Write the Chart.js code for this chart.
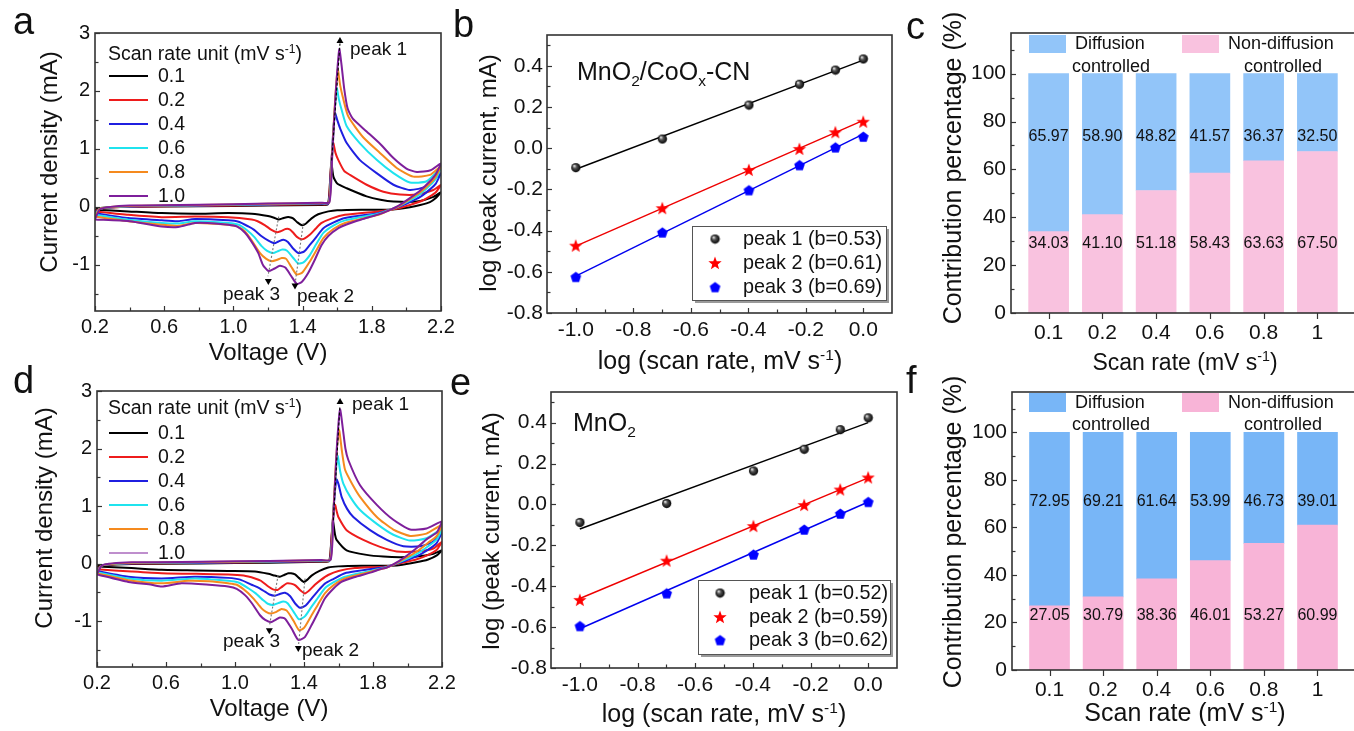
<!DOCTYPE html>
<html><head><meta charset="utf-8">
<script src="https://cdn.jsdelivr.net/npm/chart.js@4.4.1/dist/chart.umd.min.js"></script>
<style>
html,body{margin:0;padding:0;background:#fff;width:1354px;height:731px;overflow:hidden;position:relative;}
canvas{position:absolute;left:0;top:0;}
</style></head><body>
<canvas id="ca" width="1360" height="731"></canvas>
<canvas id="cb" width="1360" height="731"></canvas>
<canvas id="cc" width="1360" height="731"></canvas>
<canvas id="cd" width="1360" height="731"></canvas>
<canvas id="ce" width="1360" height="731"></canvas>
<canvas id="cf" width="1360" height="731"></canvas>
<script>
// ================= DATA =================
const scanRates = ['0.1','0.2','0.4','0.6','0.8','1.0'];
const cvColors = ['#000000','#ee1c1c','#1f1fe0','#1fe3ee','#f58a1e','#7e1f9b'];

// Panel a: MnO2/CoOx-CN CV curves [V, mA]
const cvA_01 = [[0.2,-0.05],[0.23,-0.02],[0.4,0.0],[0.8,0.01],[1.2,0.02],[1.5,0.03],[1.545,0.04],[1.556,0.3],[1.566,0.76],[1.578,0.52],[1.6,0.4],[1.655,0.32],[1.77,0.18],[1.85,0.12],[1.925,0.09],[2.06,0.09],[2.156,0.17],[2.2,0.25],
 [2.17,0.15],[2.136,0.08],[2.08,0.03],[2.02,-0.01],[1.95,-0.04],[1.886,-0.05],[1.74,-0.05],[1.6,-0.06],[1.549,-0.08],[1.49,-0.13],[1.452,-0.2],[1.42,-0.29],[1.397,-0.32],[1.37,-0.27],[1.345,-0.2],[1.325,-0.18],[1.308,-0.18],[1.285,-0.2],[1.262,-0.22],[1.235,-0.19],[1.2,-0.16],[1.106,-0.12],[0.97,-0.11],[0.778,-0.12],[0.585,-0.11],[0.393,-0.08],[0.2,-0.05]];
const cvA_02 = [[0.2,-0.08],[0.23,-0.03],[0.4,0.0],[0.8,0.015],[1.2,0.03],[1.5,0.045],[1.548,0.05],[1.558,0.4],[1.568,0.85],[1.577,1.1],[1.59,0.93],[1.606,0.81],[1.64,0.62],[1.674,0.55],[1.77,0.38],[1.867,0.26],[1.963,0.21],[2.06,0.21],[2.156,0.29],[2.2,0.38],
 [2.17,0.25],[2.136,0.18],[2.08,0.09],[2.02,0.03],[1.95,-0.03],[1.886,-0.06],[1.838,-0.08],[1.645,-0.14],[1.57,-0.2],[1.51,-0.28],[1.475,-0.38],[1.443,-0.48],[1.41,-0.55],[1.392,-0.56],[1.367,-0.52],[1.346,-0.45],[1.325,-0.39],[1.302,-0.385],[1.275,-0.42],[1.252,-0.44],[1.22,-0.4],[1.183,-0.32],[1.14,-0.25],[1.106,-0.22],[0.97,-0.18],[0.778,-0.17],[0.585,-0.18],[0.393,-0.14],[0.2,-0.08]];
const cvA_04 = [[0.2,-0.11],[0.23,-0.03],[0.4,0.005],[0.8,0.02],[1.2,0.04],[1.5,0.055],[1.55,0.06],[1.562,0.5],[1.575,1.2],[1.587,1.62],[1.6,1.5],[1.616,1.36],[1.655,1.1],[1.73,0.81],[1.828,0.58],[1.925,0.38],[2.02,0.29],[2.117,0.35],[2.2,0.58],
 [2.17,0.4],[2.136,0.3],[2.08,0.17],[2.02,0.08],[1.95,-0.01],[1.886,-0.07],[1.838,-0.11],[1.645,-0.195],[1.58,-0.27],[1.52,-0.37],[1.48,-0.52],[1.443,-0.655],[1.41,-0.77],[1.377,-0.8],[1.345,-0.72],[1.315,-0.61],[1.289,-0.57],[1.26,-0.6],[1.237,-0.63],[1.2,-0.58],[1.163,-0.51],[1.12,-0.4],[1.086,-0.34],[1.03,-0.26],[0.97,-0.235],[0.778,-0.21],[0.68,-0.25],[0.585,-0.235],[0.393,-0.195],[0.2,-0.11]];
const cvA_06 = [[0.2,-0.14],[0.23,-0.03],[0.4,0.01],[0.8,0.025],[1.2,0.045],[1.5,0.06],[1.552,0.07],[1.565,0.6],[1.58,1.4],[1.597,2.05],[1.61,1.85],[1.626,1.67],[1.655,1.39],[1.73,1.1],[1.828,0.81],[1.925,0.58],[2.02,0.42],[2.117,0.44],[2.2,0.67],
 [2.17,0.48],[2.136,0.37],[2.08,0.22],[2.02,0.11],[1.95,0.0],[1.886,-0.07],[1.838,-0.12],[1.645,-0.235],[1.58,-0.32],[1.52,-0.45],[1.48,-0.64],[1.443,-0.83],[1.405,-0.96],[1.375,-0.98],[1.345,-0.88],[1.31,-0.76],[1.283,-0.74],[1.255,-0.77],[1.231,-0.8],[1.195,-0.76],[1.163,-0.68],[1.12,-0.52],[1.077,-0.4],[1.03,-0.31],[0.97,-0.28],[0.778,-0.25],[0.68,-0.29],[0.585,-0.28],[0.393,-0.225],[0.2,-0.14]];
const cvA_08 = [[0.2,-0.17],[0.23,-0.03],[0.4,0.015],[0.8,0.03],[1.2,0.05],[1.5,0.065],[1.553,0.075],[1.567,0.7],[1.585,1.7],[1.603,2.37],[1.617,2.1],[1.632,1.9],[1.664,1.56],[1.75,1.2],[1.847,0.93],[1.944,0.67],[2.04,0.52],[2.137,0.55],[2.2,0.7],
 [2.17,0.52],[2.136,0.4],[2.08,0.25],[2.02,0.13],[1.95,0.0],[1.886,-0.08],[1.838,-0.14],[1.645,-0.28],[1.58,-0.38],[1.52,-0.54],[1.48,-0.75],[1.443,-0.94],[1.4,-1.13],[1.366,-1.17],[1.335,-1.04],[1.305,-0.9],[1.279,-0.885],[1.25,-0.92],[1.221,-0.94],[1.19,-0.9],[1.154,-0.8],[1.11,-0.6],[1.067,-0.425],[1.02,-0.34],[0.97,-0.31],[0.778,-0.28],[0.68,-0.33],[0.585,-0.31],[0.393,-0.25],[0.2,-0.17]];
const cvA_10 = [[0.2,-0.22],[0.23,-0.04],[0.4,0.02],[0.8,0.035],[1.2,0.055],[1.5,0.07],[1.555,0.08],[1.57,0.8],[1.59,1.9],[1.612,2.72],[1.625,2.45],[1.64,2.05],[1.66,1.7],[1.69,1.52],[1.77,1.3],[1.85,1.08],[1.925,0.84],[2.0,0.66],[2.06,0.6],[2.14,0.63],[2.2,0.75],
 [2.17,0.56],[2.136,0.44],[2.08,0.28],[2.02,0.15],[1.95,0.01],[1.886,-0.08],[1.83,-0.14],[1.74,-0.22],[1.65,-0.31],[1.607,-0.37],[1.55,-0.5],[1.51,-0.66],[1.47,-0.92],[1.433,-1.14],[1.395,-1.3],[1.366,-1.33],[1.335,-1.2],[1.3,-1.05],[1.269,-1.02],[1.235,-1.07],[1.202,-1.11],[1.17,-1.0],[1.144,-0.8],[1.1,-0.58],[1.067,-0.45],[1.02,-0.34],[0.97,-0.31],[0.85,-0.28],[0.778,-0.28],[0.68,-0.35],[0.585,-0.34],[0.4,-0.25],[0.2,-0.22]];

// Panel d: MnO2 CV curves [V, mA]
const cvD_01 = [[0.2,-0.05],[0.23,-0.03],[0.4,-0.01],[0.8,0.0],[1.2,0.015],[1.5,0.03],[1.545,0.04],[1.556,0.3],[1.568,0.73],[1.58,0.5],[1.589,0.41],[1.647,0.23],[1.763,0.15],[1.86,0.12],[1.957,0.11],[2.053,0.12],[2.15,0.17],[2.2,0.23],
 [2.17,0.14],[2.12,0.07],[2.05,0.02],[1.95,-0.03],[1.88,-0.04],[1.734,-0.04],[1.6,-0.05],[1.54,-0.07],[1.49,-0.13],[1.444,-0.21],[1.42,-0.28],[1.398,-0.32],[1.37,-0.25],[1.348,-0.19],[1.325,-0.17],[1.309,-0.17],[1.285,-0.2],[1.26,-0.23],[1.23,-0.21],[1.193,-0.18],[1.116,-0.14],[0.96,-0.13],[0.775,-0.12],[0.575,-0.11],[0.4,-0.08],[0.2,-0.05]];
const cvD_02 = [[0.2,-0.1],[0.23,-0.03],[0.4,0.0],[0.8,0.01],[1.2,0.025],[1.5,0.04],[1.548,0.05],[1.558,0.4],[1.57,0.85],[1.58,1.02],[1.59,0.9],[1.599,0.81],[1.647,0.58],[1.744,0.41],[1.841,0.29],[1.937,0.21],[2.053,0.21],[2.15,0.26],[2.2,0.38],
 [2.17,0.24],[2.12,0.15],[2.05,0.07],[1.95,0.0],[1.88,-0.05],[1.695,-0.08],[1.6,-0.13],[1.54,-0.2],[1.5,-0.28],[1.463,-0.37],[1.43,-0.47],[1.405,-0.52],[1.38,-0.47],[1.35,-0.38],[1.325,-0.35],[1.3,-0.345],[1.27,-0.41],[1.247,-0.46],[1.22,-0.45],[1.193,-0.4],[1.15,-0.3],[1.116,-0.26],[1.05,-0.21],[0.96,-0.19],[0.775,-0.18],[0.575,-0.17],[0.4,-0.14],[0.2,-0.1]];
const cvD_04 = [[0.2,-0.13],[0.23,-0.03],[0.4,0.005],[0.8,0.015],[1.2,0.03],[1.5,0.045],[1.55,0.055],[1.562,0.5],[1.576,1.15],[1.589,1.46],[1.6,1.38],[1.618,1.16],[1.65,0.95],[1.686,0.81],[1.783,0.58],[1.88,0.41],[1.976,0.3],[2.073,0.3],[2.15,0.38],[2.2,0.55],
 [2.17,0.36],[2.12,0.24],[2.05,0.12],[1.95,0.01],[1.88,-0.06],[1.83,-0.08],[1.637,-0.17],[1.57,-0.27],[1.521,-0.35],[1.48,-0.48],[1.444,-0.61],[1.41,-0.73],[1.377,-0.77],[1.35,-0.7],[1.32,-0.57],[1.29,-0.51],[1.26,-0.53],[1.232,-0.56],[1.2,-0.54],[1.174,-0.49],[1.13,-0.41],[1.096,-0.37],[1.03,-0.28],[0.96,-0.25],[0.768,-0.23],[0.575,-0.26],[0.381,-0.23],[0.2,-0.13]];
const cvD_06 = [[0.2,-0.15],[0.23,-0.03],[0.4,0.01],[0.8,0.02],[1.2,0.035],[1.5,0.05],[1.552,0.06],[1.565,0.6],[1.58,1.4],[1.595,1.87],[1.61,1.6],[1.628,1.39],[1.67,1.15],[1.725,0.93],[1.822,0.69],[1.918,0.5],[2.015,0.4],[2.11,0.44],[2.2,0.6],
 [2.17,0.42],[2.12,0.3],[2.05,0.16],[1.95,0.02],[1.88,-0.06],[1.83,-0.1],[1.637,-0.23],[1.57,-0.33],[1.521,-0.43],[1.48,-0.6],[1.444,-0.75],[1.405,-0.92],[1.371,-0.97],[1.34,-0.84],[1.305,-0.69],[1.28,-0.66],[1.25,-0.69],[1.222,-0.72],[1.19,-0.7],[1.164,-0.64],[1.12,-0.52],[1.077,-0.43],[1.02,-0.33],[0.96,-0.3],[0.768,-0.26],[0.575,-0.3],[0.381,-0.26],[0.2,-0.15]];
const cvD_08 = [[0.2,-0.17],[0.23,-0.03],[0.4,0.015],[0.8,0.025],[1.2,0.04],[1.5,0.055],[1.553,0.065],[1.567,0.7],[1.585,1.75],[1.603,2.32],[1.62,1.95],[1.638,1.63],[1.68,1.38],[1.725,1.16],[1.822,0.81],[1.918,0.59],[2.015,0.48],[2.11,0.52],[2.2,0.67],
 [2.17,0.48],[2.12,0.36],[2.05,0.2],[1.95,0.03],[1.88,-0.07],[1.83,-0.11],[1.637,-0.26],[1.57,-0.38],[1.521,-0.52],[1.48,-0.72],[1.444,-0.9],[1.4,-1.12],[1.371,-1.16],[1.34,-1.0],[1.3,-0.82],[1.27,-0.79],[1.24,-0.84],[1.208,-0.87],[1.18,-0.84],[1.154,-0.78],[1.11,-0.62],[1.067,-0.49],[1.01,-0.37],[0.96,-0.345],[0.85,-0.31],[0.73,-0.3],[0.575,-0.345],[0.381,-0.29],[0.2,-0.17]];
const cvD_10 = [[0.2,-0.19],[0.23,-0.03],[0.4,0.02],[0.8,0.03],[1.2,0.045],[1.5,0.06],[1.555,0.07],[1.57,0.8],[1.59,2.0],[1.609,2.68],[1.625,2.35],[1.64,2.0],[1.657,1.8],[1.725,1.36],[1.822,1.02],[1.918,0.76],[2.015,0.59],[2.11,0.61],[2.2,0.73],
 [2.17,0.54],[2.11,0.42],[2.05,0.26],[1.95,0.04],[1.88,-0.07],[1.84,-0.1],[1.791,-0.155],[1.69,-0.24],[1.617,-0.32],[1.57,-0.44],[1.521,-0.61],[1.48,-0.86],[1.444,-1.07],[1.405,-1.28],[1.367,-1.33],[1.33,-1.14],[1.29,-0.96],[1.26,-0.94],[1.235,-0.98],[1.208,-1.02],[1.175,-0.98],[1.145,-0.9],[1.1,-0.7],[1.058,-0.55],[1.01,-0.44],[0.96,-0.4],[0.85,-0.37],[0.69,-0.345],[0.575,-0.4],[0.517,-0.37],[0.381,-0.32],[0.2,-0.19]];

// peak guide lines and arrow heads [V, mA, rotation]
const guideA1 = [[1.568,0.8],[1.616,2.82]];
const guideA3 = [[1.262,-0.17],[1.2,-1.2]];
const guideA2 = [[1.404,-0.28],[1.358,-1.3]];
const arrowsA = [[1.616,2.86,0],[1.202,-1.28,180],[1.356,-1.36,180]];
const guideD1 = [[1.57,0.75],[1.608,2.74]];
const guideD3 = [[1.25,-0.2],[1.2,-1.08]];
const guideD2 = [[1.406,-0.26],[1.369,-1.4]];
const arrowsD = [[1.609,2.81,0],[1.199,-1.16,180],[1.367,-1.47,180]];

// Panel b / e: log(peak current) vs log(scan rate)
const logRate = [-1.0,-0.699,-0.398,-0.222,-0.097,0.0];
const bPeak1 = [-0.094,0.045,0.21,0.311,0.38,0.434];
const bPeak2 = [-0.473,-0.291,-0.105,-0.003,0.078,0.129];
const bPeak3 = [-0.624,-0.408,-0.203,-0.081,0.005,0.057];
const bFit1 = [[-1,-0.102],[0,0.428]];
const bFit2 = [[-1,-0.475],[0,0.135]];
const bFit3 = [[-1,-0.621],[0,0.069]];
const bLegend = ['peak 1 (b=0.53)','peak 2 (b=0.61)','peak 3 (b=0.69)'];
const ePeak1 = [-0.088,0.005,0.164,0.27,0.366,0.424];
const ePeak2 = [-0.467,-0.275,-0.106,-0.003,0.073,0.132];
const ePeak3 = [-0.594,-0.434,-0.244,-0.122,-0.044,0.013];
const eFit1 = [[-1,-0.12],[0,0.4]];
const eFit2 = [[-1,-0.46],[0,0.13]];
const eFit3 = [[-1,-0.608],[0,0.012]];
const eLegend = ['peak 1 (b=0.52)','peak 2 (b=0.59)','peak 3 (b=0.62)'];

// Panel c / f: contribution percentages
const rateLabels = ['0.1','0.2','0.4','0.6','0.8','1'];
const cNonDiff = [34.03,41.10,51.18,58.43,63.63,67.50];
const cDiff = [65.97,58.90,48.82,41.57,36.37,32.50];
const fNonDiff = [27.05,30.79,38.36,46.01,53.27,60.99];
const fDiff = [72.95,69.21,61.64,53.99,46.73,39.01];

// Tick values and labels
const cvTicksX = [0.2,0.4,0.6,0.8,1.0,1.2,1.4,1.6,1.8,2.0,2.2];
const cvLabelsX = ['0.2','','0.6','','1.0','','1.4','','1.8','','2.2'];
const cvTicksY = [-1.5,-1,-0.5,0,0.5,1,1.5,2,2.5,3];
const cvLabelsY = ['','-1','','0','','1','','2','','3'];
const logTicksX = [-1.0,-0.9,-0.8,-0.7,-0.6,-0.5,-0.4,-0.3,-0.2,-0.1,0.0];
const logLabelsX = ['-1.0','','-0.8','','-0.6','','-0.4','','-0.2','','0.0'];
const logTicksY = [-0.8,-0.7,-0.6,-0.5,-0.4,-0.3,-0.2,-0.1,0,0.1,0.2,0.3,0.4,0.5];
const logLabelsY = ['-0.8','','-0.6','','-0.4','','-0.2','','0.0','','0.2','','0.4',''];
const pctTicksY = [0,10,20,30,40,50,60,70,80,90,100,110];
const pctLabelsY = ['0','','20','','40','','60','','80','','100',''];
const rateTicks = [0,1,2,3,4,5];

// ================= HELPERS =================
const FONT = "'Liberation Sans', Arial, Helvetica, sans-serif";
const INK = '#111';
const W = 1360, H = 731;

function drawRich(ctx, segs, x, y, size, align) {
  ctx.fillStyle = INK; ctx.textBaseline = 'alphabetic'; ctx.textAlign = 'left';
  const parts = segs.map(([t, m]) => { const s = m ? size * 0.62 : size; ctx.font = s + 'px ' + FONT; return {t, m, s, w: ctx.measureText(t).width}; });
  const total = parts.reduce((a, p) => a + p.w, 0);
  let cx = align === 'center' ? x - total / 2 : (align === 'right' ? x - total : x);
  for (const p of parts) {
    ctx.font = p.s + 'px ' + FONT;
    const dy = p.m === 1 ? -size * 0.38 : (p.m === -1 ? size * 0.22 : 0);
    ctx.fillText(p.t, cx, y + dy);
    cx += p.w;
  }
}
function vTitle(ctx, segs, bx, cy, size) {
  ctx.save(); ctx.translate(bx, cy); ctx.rotate(-Math.PI / 2); drawRich(ctx, segs, 0, 0, size, 'center'); ctx.restore();
}
function text(ctx, t, x, y, size, align) {
  ctx.fillStyle = INK; ctx.font = size + 'px ' + FONT; ctx.textAlign = align || 'left'; ctx.textBaseline = 'middle'; ctx.fillText(t, x, y);
}

function linScale(min, max, ticks, labels, fsize, pad, isX) {
  return {
    type: 'linear', min, max, bounds: 'data', offset: false,
    afterBuildTicks: s => { s.ticks = ticks.map(v => ({value: v})); },
    afterFit: s => { if (isX) s.height = 30; else s.width = 40; },
    grid: {display: false, drawTicks: false},
    border: {display: false},
    ticks: {autoSkip: false, maxRotation: 0, minRotation: 0, padding: pad, color: INK,
      font: {family: FONT, size: fsize}, callback: (v, i) => labels[i]}
  };
}

function decoPlugin(opt) {
  return {
    id: 'deco',
    afterDraw(chart) {
      const ctx = chart.ctx, ca = chart.chartArea, xs = chart.scales.x, ys = chart.scales.y;
      ctx.save();
      ctx.strokeStyle = '#333'; ctx.lineWidth = 1.2;
      xs.ticks.forEach((t, i) => {
        const px = Math.round(xs.getPixelForValue(t.value)) + 0.5;
        const len = opt.xLabels[i] ? 5 : 3.5;
        ctx.beginPath();
        if (opt.xOut) { ctx.moveTo(px, ca.bottom); ctx.lineTo(px, ca.bottom + 6); }
        else { ctx.moveTo(px, ca.bottom); ctx.lineTo(px, ca.bottom - len); }
        ctx.stroke();
      });
      ys.ticks.forEach((t, i) => {
        const py = Math.round(ys.getPixelForValue(t.value)) + 0.5;
        const len = opt.yLabels[i] ? 5 : 3.5;
        ctx.beginPath(); ctx.moveTo(ca.left, py); ctx.lineTo(ca.left + len, py); ctx.stroke();
      });
      ctx.lineWidth = 1.6; ctx.strokeStyle = '#333';
      ctx.strokeRect(ca.left, ca.top, ca.right - ca.left, ca.bottom - ca.top);
      if (opt.extra) opt.extra(ctx, chart);
      ctx.restore();
    }
  };
}

function baseOptions(box, xScale, yScale) {
  return {
    responsive: false, animation: false, devicePixelRatio: 1, events: [],
    layout: {padding: {left: box.L - 40, top: box.T, right: W - box.R, bottom: H - box.B - 30}},
    plugins: {legend: {display: false}, tooltip: {enabled: false}},
    scales: {x: xScale, y: yScale}
  };
}

// marker images
function makeSphere(r) {
  const c = document.createElement('canvas'); c.width = c.height = 2 * r + 2;
  const g = c.getContext('2d'); const m = r + 1;
  const grd = g.createRadialGradient(m - r * 0.35, m - r * 0.4, r * 0.1, m, m, r);
  grd.addColorStop(0, '#e0e0e0'); grd.addColorStop(0.35, '#555'); grd.addColorStop(1, '#000');
  g.fillStyle = grd; g.beginPath(); g.arc(m, m, r, 0, Math.PI * 2); g.fill();
  return c;
}
function makeStar(R, r, color) {
  const c = document.createElement('canvas'); c.width = c.height = 2 * R + 2;
  const g = c.getContext('2d'); const m = R + 1;
  g.fillStyle = color; g.beginPath();
  for (let k = 0; k < 10; k++) { const a = -Math.PI / 2 + k * Math.PI / 5; const rr = k % 2 ? r : R; g.lineTo(m + rr * Math.cos(a), m + 0.5 + rr * Math.sin(a)); }
  g.closePath(); g.fill(); return c;
}
function makePentagon(R, color) {
  const c = document.createElement('canvas'); c.width = c.height = 2 * R + 2;
  const g = c.getContext('2d'); const m = R + 1;
  g.fillStyle = color; g.beginPath();
  for (let k = 0; k < 5; k++) { const a = -Math.PI / 2 + k * 2 * Math.PI / 5; g.lineTo(m + R * Math.cos(a), m + 0.6 + R * Math.sin(a)); }
  g.closePath(); g.fill(); return c;
}
const mkSphere = makeSphere(4.6), mkStar = makeStar(7, 2.9, '#ff0000'), mkPent = makePentagon(5.6, '#0000ff');

// ================= CV PANELS =================
function cvChart(id, box, curves, guides, arrows, cfg) {
  const ds = curves.map((c, i) => ({
    data: c.map(p => ({x: p[0], y: p[1]})), showLine: true,
    borderColor: cvColors[i], backgroundColor: cvColors[i], borderWidth: 2,
    pointRadius: 0, tension: 0.2, order: 10 - i
  }));
  guides.forEach(g => ds.push({data: g.pts.map(p => ({x: p[0], y: p[1]})), showLine: true,
    borderColor: g.color, borderWidth: 1.1, borderDash: g.dash, pointRadius: 0, tension: 0, order: 1}));
  ds.push({data: arrows.map(a => ({x: a[0], y: a[1]})), showLine: false, pointStyle: 'triangle',
    pointRadius: 4, pointRotation: arrows.map(a => a[2]), backgroundColor: '#000', borderColor: '#000', borderWidth: 0, order: 0});
  const opts = baseOptions(box,
    linScale(0.2, 2.2, cvTicksX, cvLabelsX, 20, cfg.xPad, true),
    linScale(-1.8, 3, cvTicksY, cvLabelsY, 20, 5, false));
  new Chart(document.getElementById(id), {
    type: 'scatter', data: {datasets: ds}, options: opts,
    plugins: [decoPlugin({xLabels: cvLabelsX, yLabels: cvLabelsY, xOut: false, extra: (ctx, chart) => {
      drawRich(ctx, [['Voltage (V)', 0]], cfg.xt[0], cfg.xt[1], 24, 'center');
      vTitle(ctx, [['Current density (mA)', 0]], cfg.yt[0], cfg.yt[1], 24);
      drawRich(ctx, [['Scan rate unit (mV s', 0], ['-1', 1], [')', 0]], 108, cfg.lgTitle + 7, 19.5, 'left');
      scanRates.forEach((r, i) => {
        const y = cfg.lgRows[i];
        ctx.strokeStyle = cvColors[i]; ctx.lineWidth = cfg.lgLw[i];
        ctx.beginPath(); ctx.moveTo(109, y); ctx.lineTo(148, y); ctx.stroke();
        text(ctx, r, 158, y + 1, 19.5);
      });
      cfg.peaks.forEach(p => text(ctx, p[0], p[1], p[2], 19));
      text(ctx, cfg.letter[0], cfg.letter[1], cfg.letter[2], 38);
    }})]
  });
}

cvChart('ca', {L: 95, T: 33, R: 441, B: 311}, [cvA_01, cvA_02, cvA_04, cvA_06, cvA_08, cvA_10],
  [{pts: guideA1, color: '#000', dash: [3, 2]}, {pts: guideA3, color: '#777', dash: [2, 2]}, {pts: guideA2, color: '#777', dash: [2, 2]}],
  arrowsA,
  {xPad: 4, xt: [268, 360], yt: [57, 162], lgTitle: 53, lgRows: [76, 100, 124, 148, 172, 196], lgLw: [2, 2, 2, 2, 2, 2],
   peaks: [['peak 1', 350, 50], ['peak 3', 223, 295], ['peak 2', 297, 297]], letter: ['a', 13, 24]});

cvChart('cd', {L: 97, T: 391, R: 442, B: 667}, [cvD_01, cvD_02, cvD_04, cvD_06, cvD_08, cvD_10],
  [{pts: guideD1, color: '#000', dash: [3, 2]}, {pts: guideD3, color: '#777', dash: [2, 2]}, {pts: guideD2, color: '#777', dash: [2, 2]}],
  arrowsD,
  {xPad: 4, xt: [269, 716], yt: [52, 518], lgTitle: 407, lgRows: [433, 457, 481, 505, 529, 553], lgLw: [2, 2, 2, 2, 2, 1],
   peaks: [['peak 1', 352, 405], ['peak 3', 223, 642], ['peak 2', 302, 651]], letter: ['d', 13, 383]});

// ================= LOG PANELS =================
function logChart(id, box, peaks, fits, legend, cfg) {
  const mk = [mkSphere, mkStar, mkPent], col = ['#000000', '#ee0000', '#0000ee'];
  const ds = [];
  peaks.forEach((p, i) => ds.push({data: logRate.map((x, k) => ({x, y: p[k]})), showLine: false,
    pointStyle: mk[i], pointRadius: 5, order: 0}));
  fits.forEach((f, i) => ds.push({data: f.map(p => ({x: p[0], y: p[1]})), showLine: true,
    borderColor: col[i], borderWidth: 1.4, pointRadius: 0, order: 1}));
  const opts = baseOptions(box,
    linScale(-1.1, 0.1, logTicksX, logLabelsX, 21, 4.5, true),
    linScale(-0.8, 0.55, logTicksY, logLabelsY, 21, 4, false));
  new Chart(document.getElementById(id), {
    type: 'scatter', data: {datasets: ds}, options: opts,
    plugins: [decoPlugin({xLabels: logLabelsX, yLabels: logLabelsY, xOut: false, extra: (ctx) => {
      drawRich(ctx, [['log (scan rate, mV s', 0], ['-1', 1], [')', 0]], cfg.xt[0], cfg.xt[1], 25, 'center');
      vTitle(ctx, [['log (peak current, mA)', 0]], cfg.yt[0], cfg.yt[1], 24);
      drawRich(ctx, cfg.name, cfg.nm[0], cfg.nm[1], 25, 'left');
      const lb = cfg.lg;
      ctx.fillStyle = '#9a9a9a'; ctx.fillRect(lb[0] + 3, lb[1] + 3, lb[2], lb[3]);
      ctx.fillStyle = '#fff'; ctx.fillRect(lb[0], lb[1], lb[2], lb[3]);
      ctx.strokeStyle = '#555'; ctx.lineWidth = 1; ctx.strokeRect(lb[0] + 0.5, lb[1] + 0.5, lb[2], lb[3]);
      legend.forEach((t, i) => {
        const y = cfg.lgRows[i];
        ctx.drawImage(mk[i], cfg.lgMk - mk[i].width / 2, y - mk[i].height / 2);
        text(ctx, t, cfg.lgTx, y + 1, 19.8);
      });
      text(ctx, cfg.letter[0], cfg.letter[1], cfg.letter[2], 38);
    }})]
  });
}

logChart('cb', {L: 547, T: 35, R: 892, B: 313}, [bPeak1, bPeak2, bPeak3], [bFit1, bFit2, bFit3], bLegend,
  {xt: [720, 369], yt: [496, 173], name: [['MnO', 0], ['2', -1], ['/CoO', 0], ['x', -1], ['-CN', 0]], nm: [577, 80],
   lg: [692, 226, 194, 74], lgRows: [239, 263, 287], lgMk: 715, lgTx: 743, letter: ['b', 453, 27]});
logChart('ce', {L: 551, T: 392, R: 897, B: 668}, [ePeak1, ePeak2, ePeak3], [eFit1, eFit2, eFit3], eLegend,
  {xt: [724, 722], yt: [499, 531], name: [['MnO', 0], ['2', -1]], nm: [573, 431],
   lg: [698, 580, 192, 74], lgRows: [593, 617, 640], lgMk: 720, lgTx: 749, letter: ['e', 450, 385]});

// ================= BAR PANELS =================
function barChart(id, box, nonDiff, diff, cfg) {
  const opts = baseOptions(box,
    Object.assign(linScale(-0.7, 5.7, rateTicks, rateLabels, 21, 8, true), {stacked: true}),
    Object.assign(linScale(0, 117, pctTicksY, pctLabelsY, 21, 5, false), {stacked: true}));
  new Chart(document.getElementById(id), {
    type: 'bar',
    data: {datasets: [
      {label: 'Non-diffusion controlled', data: nonDiff.map((v, i) => ({x: i, y: v})), backgroundColor: cfg.pink, barThickness: 40, borderWidth: 0},
      {label: 'Diffusion controlled', data: diff.map((v, i) => ({x: i, y: v})), backgroundColor: cfg.blue, barThickness: 40, borderWidth: 0}
    ]},
    options: opts,
    plugins: [decoPlugin({xLabels: rateLabels, yLabels: pctLabelsY, xOut: true, extra: (ctx, chart) => {
      const xs = chart.scales.x, ys = chart.scales.y;
      diff.forEach((v, i) => text(ctx, v.toFixed(2), xs.getPixelForValue(i), ys.getPixelForValue(cfg.topLbl), 16, 'center'));
      nonDiff.forEach((v, i) => text(ctx, v.toFixed(2), xs.getPixelForValue(i), ys.getPixelForValue(cfg.botLbl), 16, 'center'));
      drawRich(ctx, [['Scan rate (mV s', 0], ['-1', 1], [')', 0]], cfg.xt[0], cfg.xt[1], cfg.xtSize, 'center');
      vTitle(ctx, [['Contribution percentage (%)', 0]], cfg.yt[0], cfg.yt[1], 25);
      const lg = cfg.lg;
      ctx.fillStyle = cfg.blue; ctx.fillRect(1029, lg.y, 37, lg.h);
      ctx.fillStyle = cfg.pink; ctx.fillRect(1182, lg.y, 37, lg.h);
      text(ctx, 'Diffusion', 1075, lg.r1, 18);
      text(ctx, 'controlled', 1111, lg.r2, 18, 'center');
      text(ctx, 'Non-diffusion', 1228, lg.r1, 18);
      text(ctx, 'controlled', 1283, lg.r2, 18, 'center');
      text(ctx, cfg.letter[0], cfg.letter[1], cfg.letter[2], 38);
    }})]
  });
}

barChart('cc', {L: 1011, T: 33, R: 1355, B: 313}, cNonDiff, cDiff,
  {pink: '#f9c2df', blue: '#92c5f9', topLbl: 73.6, botLbl: 28.9, xt: [1185, 370], xtSize: 23, yt: [961, 168],
   lg: {y: 35, h: 18, r1: 44, r2: 67}, letter: ['c', 906, 29]});
barChart('cf', {L: 1012, T: 392, R: 1355, B: 670}, fNonDiff, fDiff,
  {pink: '#f8b4d7', blue: '#78b6f7', topLbl: 70.8, botLbl: 22.7, xt: [1185, 721], xtSize: 25, yt: [961, 532],
   lg: {y: 393, h: 19, r1: 403, r2: 425}, letter: ['f', 906, 383]});
</script>
</body></html>
